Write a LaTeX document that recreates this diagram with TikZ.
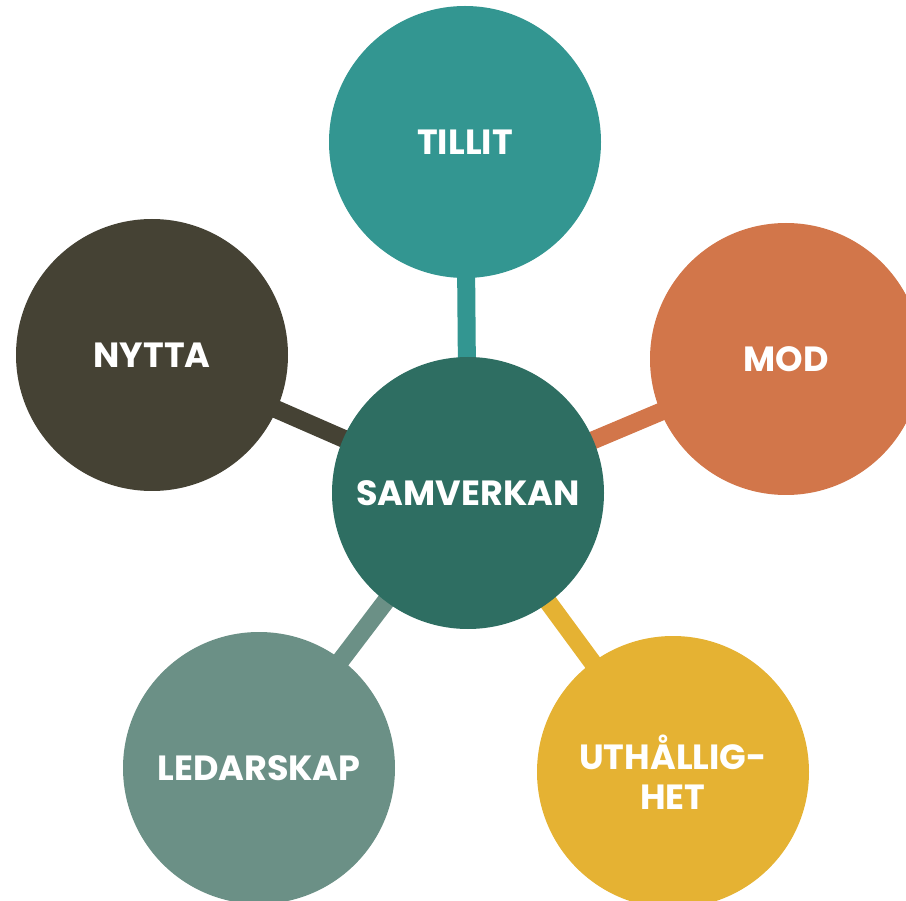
\documentclass[tikz,border=0pt]{standalone}
\usepackage{fontspec}
\setmainfont{Poppins}
\usetikzlibrary{backgrounds}
\definecolor{tillitcol}{HTML}{339691}
\definecolor{samvcol}{HTML}{2E6E62}
\definecolor{modcol}{HTML}{D2764A}
\definecolor{nyttacol}{HTML}{454234}
\definecolor{ledcol}{HTML}{6B9086}
\definecolor{uthcol}{HTML}{E5B233}
\tikzset{
    ball/.style={circle, fill=#1, minimum size=272pt, inner sep=0pt,
        text=white, font=\fontsize{35}{40}\selectfont\bfseries, align=center},
    spoke/.style={draw=#1, line width=18pt}
}

\begin{document}
\begin{tikzpicture}[x=1pt, y=-1pt]
                        \useasboundingbox (0, 0) rectangle (906, 901);
                        \clip (0, 0) rectangle (906, 901);
                        \node[ball=samvcol] (samverkan) at (468, 493) {SAMVERKAN};
                        \node[ball=tillitcol] (tillit) at (465, 142) {TILLIT};
                        \node[ball=modcol] (mod) at (786, 359) {MOD};
                        \node[ball=nyttacol] (nytta) at (152, 355) {NYTTA};
                        \node[ball=ledcol] (ledarskap) at (259, 768) {LEDARSKAP};
                        \node[ball=uthcol] (uthallighet) at (673, 772) {UTHÅLLIG-\\HET};
                        \begin{scope}[on background layer]
                            \draw[spoke=tillitcol] (samverkan.center) -- (tillit.center);
                            \draw[spoke=modcol] (samverkan.center) -- (mod.center);
                            \draw[spoke=nyttacol] (samverkan.center) -- (nytta.center);
                            \draw[spoke=ledcol] (samverkan.center) -- (ledarskap.center);
                            \draw[spoke=uthcol] (samverkan.center) -- (uthallighet.center);
                        \end{scope}
                    \end{tikzpicture}
\end{document}
